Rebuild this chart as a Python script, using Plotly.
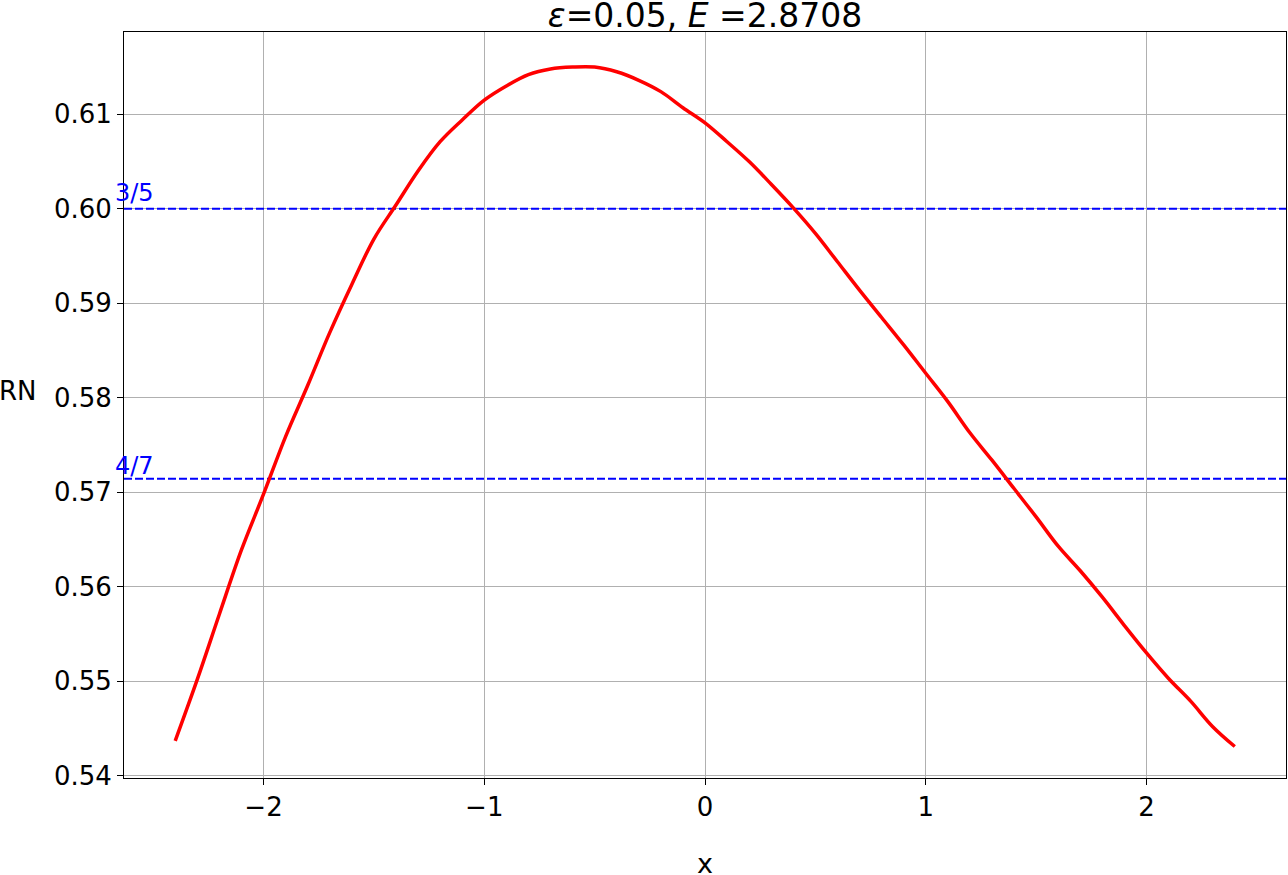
import plotly.graph_objects as go

# RN(x)
x_vals = [-2.4, -2.3, -2.2, -2.1, -2.0, -1.9, -1.8, -1.7, -1.6, -1.5, -1.4, -1.3,
          -1.2, -1.1, -1.0, -0.9, -0.8, -0.7, -0.6, -0.5, -0.4, -0.3, -0.2, -0.1,
          0.0, 0.1, 0.2, 0.3, 0.4, 0.5, 0.6, 0.7, 0.8, 0.9, 1.0, 1.1, 1.2, 1.3,
          1.4, 1.5, 1.6, 1.7, 1.8, 1.9, 2.0, 2.1, 2.2, 2.3, 2.4]
rn_vals = [0.5437, 0.5502, 0.5571, 0.5639, 0.5698, 0.5759, 0.5813, 0.5869, 0.5920,
           0.5968, 0.6004, 0.6040, 0.6071, 0.6094, 0.6115, 0.6130, 0.6142, 0.6148,
           0.6150, 0.6150, 0.6145, 0.6136, 0.6124, 0.6107, 0.6091, 0.6071, 0.6050,
           0.6026, 0.6001, 0.5974, 0.5944, 0.5914, 0.5885, 0.5856, 0.5826, 0.5796,
           0.5763, 0.5734, 0.5704, 0.5674, 0.5643, 0.5617, 0.5589, 0.5559, 0.5530,
           0.5503, 0.5479, 0.5452, 0.5431]

ref_values = [3 / 5, 4 / 7]
ref_labels = ["3/5", "4/7"]
ref_label_shift = [0, -3]

x_range = [-2.632, 2.632]
y_range = [0.53977, 0.61871]

W, H = 1288, 875
ML, MR, MT, MB = 124, 2, 32, 97
PW, PH = W - ML - MR, H - MT - MB

fig = go.Figure()

for val in ref_values:
    fig.add_trace(go.Scatter(
        x=x_range, y=[val, val], mode="lines",
        line=dict(color="blue", width=2, dash="8px,3px"),
        hoverinfo="skip", showlegend=False
    ))

fig.add_trace(go.Scatter(
    x=x_vals, y=rn_vals, mode="lines",
    line=dict(color="red", width=3.5, shape="spline"),
    showlegend=False
))

# labels of the reference lines, starting just left of the frame
for val, label, shift in zip(ref_values, ref_labels, ref_label_shift):
    fig.add_annotation(
        xref="paper", x=(113 - ML) / PW, y=val, text=label, showarrow=False,
        xanchor="left", yanchor="bottom", yshift=shift,
        font=dict(color="blue", size=24, family="DejaVu Sans")
    )

# matplotlib-style horizontal y label and x label
fig.add_annotation(
    xref="paper", yref="paper",
    x=(18.5 - ML) / PW, y=(H - MB - 391) / PH,
    text="RN", showarrow=False, xanchor="center", yanchor="middle",
    font=dict(color="black", size=26, family="DejaVu Sans")
)
fig.add_annotation(
    xref="paper", yref="paper",
    x=0.5, y=-(863 - (H - MB)) / PH,
    text="x", showarrow=False, xanchor="center", yanchor="middle",
    font=dict(color="black", size=27, family="DejaVu Sans")
)

axis_style = dict(
    showgrid=True, gridcolor="#b0b0b0", gridwidth=1,
    showline=True, linecolor="black", linewidth=1, mirror=True,
    ticks="outside", ticklen=6, tickcolor="black", tickwidth=1,
    zeroline=False, automargin=False,
    tickfont=dict(size=26, color="black", family="DejaVu Sans"),
)

fig.update_xaxes(range=x_range, tickvals=[-2, -1, 0, 1, 2], **axis_style)
fig.update_yaxes(
    range=y_range, tickvals=[0.54, 0.55, 0.56, 0.57, 0.58, 0.59, 0.60, 0.61],
    tickformat=".2f",
    **axis_style
)

fig.update_layout(
    width=W, height=H,
    margin=dict(l=ML, r=MR, t=MT, b=MB, autoexpand=False),
    paper_bgcolor="white", plot_bgcolor="white",
    title=dict(
        text="<i>ε</i>=0.05, <i>E</i> =2.8708",
        x=(ML + PW / 2) / W, xanchor="center",
        yref="container", y=1 - 15 / H, yanchor="middle",
        font=dict(size=33, color="black", family="DejaVu Sans")
    ),
    font=dict(family="DejaVu Sans"),
)

# drop the default 8px body margin so the figure fills the window exactly
fig.write_html("out.html", config={"displayModeBar": False},
               post_script="document.body.style.margin = '0px';")
